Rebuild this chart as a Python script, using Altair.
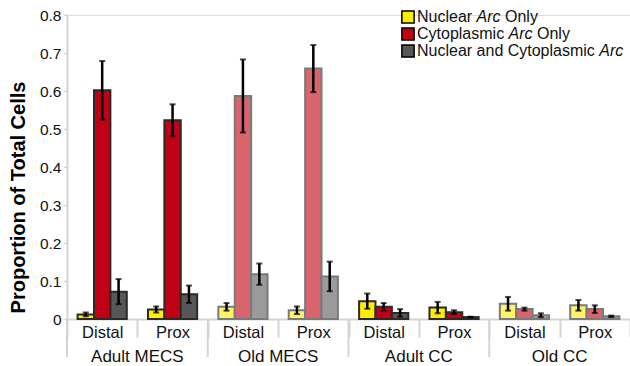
import altair as alt
import pandas as pd

# ---------------- data ----------------
groups = ["Adult MECS", "Old MECS", "Adult CC", "Old CC"]
positions = ["Distal", "Prox"]
ages = ["Adult", "Old", "Adult", "Old"]
series = ["Nuclear Arc Only", "Cytoplasmic Arc Only", "Nuclear and Cytoplasmic Arc"]

nuclear = [0.012, 0.025, 0.032, 0.023, 0.047, 0.030, 0.040, 0.036]
nuclear_err = [0.005, 0.008, 0.010, 0.010, 0.020, 0.015, 0.018, 0.014]
cyto = [0.602, 0.523, 0.587, 0.659, 0.032, 0.018, 0.026, 0.026]
cyto_err = [0.077, 0.042, 0.096, 0.062, 0.010, 0.005, 0.004, 0.010]
both = [0.072, 0.065, 0.118, 0.112, 0.016, 0.005, 0.010, 0.007]
both_err = [0.033, 0.023, 0.028, 0.039, 0.010, 0.001, 0.005, 0.002]

y_ticks = [0, 0.1, 0.2, 0.3, 0.4, 0.5, 0.6, 0.7, 0.8]

fill_colors = {
    "Adult|Nuclear Arc Only": "#FFEE00",
    "Adult|Cytoplasmic Arc Only": "#C00015",
    "Adult|Nuclear and Cytoplasmic Arc": "#575757",
    "Old|Nuclear Arc Only": "#FFF36A",
    "Old|Cytoplasmic Arc Only": "#D9646C",
    "Old|Nuclear and Cytoplasmic Arc": "#9B9B9B",
}
stroke_colors = {"Adult": "#2D2926", "Old": "#7A7A7A"}

# ---------------- table ----------------
keys = [f"{g}|{p}" for g in groups for p in positions]
vals = [nuclear, cyto, both]
errs = [nuclear_err, cyto_err, both_err]
rows = []
for gi, g in enumerate(groups):
    for pi, p in enumerate(positions):
        i = gi * 2 + pi
        for si, s in enumerate(series):
            v, e = vals[si][i], errs[si][i]
            rows.append({
                "key": f"{g}|{p}", "group": g, "pos": p, "age": ages[gi],
                "series": s, "ckey": f"{ages[gi]}|{s}",
                "value": v, "lo": max(v - e, 0), "hi": v + e,
            })
df = pd.DataFrame(rows)

FONT = "Liberation Sans"
W, H = 563, 304

x_enc = alt.X(
    "key:N", sort=keys, title=None,
    scale=alt.Scale(paddingInner=0, paddingOuter=0),
    axis=alt.Axis(
        labelExpr="split(datum.label, '|')[1]", labelAngle=0,
        tickBand="extent", tickSize=18, tickWidth=2, tickColor="#D4D4D4",
        domainColor="#D4D4D4", domainWidth=2,
        labelFontSize=16.5, labelColor="#111111", labelFont=FONT,
        labelBaseline="alphabetic", labelPadding=0,
    ),
)
xoff = alt.XOffset("series:N", sort=series,
                   scale=alt.Scale(paddingOuter=0.646, paddingInner=0))
y_scale = alt.Scale(domain=[0, 0.8], nice=False)
y_axis = alt.Axis(
    values=y_ticks, grid=False, title="Proportion of Total Cells",
    labelExpr="datum.value == 0 ? '0' : format(datum.value, '.1f')",
    labelOverlap=False, tickCount=9,
    labelFontSize=15.5, labelColor="#111111", labelFont=FONT,
    tickSize=3, tickColor="#C8C8C8", tickWidth=1.5, labelPadding=3,
    domainColor="#D4D4D4", domainWidth=2,
    titleFont=FONT, titleFontSize=20, titleFontWeight="bold",
    titleColor="#000000", titleAngle=270, titleAlign="center",
    titleBaseline="alphabetic", titleX=-43, titleY=182,
)


def Y(field):
    return alt.Y(field, scale=y_scale, axis=y_axis, title="Proportion of Total Cells")


base = alt.Chart(df)

bars = base.mark_bar(strokeWidth=2).encode(
    x=x_enc, xOffset=xoff, y=Y("value:Q"),
    fill=alt.Fill("ckey:N", scale=alt.Scale(domain=list(fill_colors.keys()),
                                           range=list(fill_colors.values())), legend=None),
    stroke=alt.Stroke("age:N", scale=alt.Scale(domain=list(stroke_colors.keys()),
                                              range=list(stroke_colors.values())), legend=None),
)

err_rule = base.mark_rule(color="black", strokeWidth=2.5).encode(
    x=alt.X("key:N", sort=keys), xOffset=xoff, y=Y("lo:Q"), y2="hi:Q",
)
cap_hi = base.mark_tick(color="black", size=6, thickness=2).encode(
    x=alt.X("key:N", sort=keys), xOffset=xoff, y=Y("hi:Q"),
)
cap_lo = base.mark_tick(color="black", size=6, thickness=2).encode(
    x=alt.X("key:N", sort=keys), xOffset=xoff, y=Y("lo:Q"),
)

# group separators and group labels
gdf = pd.DataFrame({"key": [f"{g}|Distal" for g in groups], "group": groups})
gsep = alt.Chart(gdf).mark_rule(color="#D4D4D4", strokeWidth=2).encode(
    x=alt.X("key:N", sort=keys, bandPosition=0),
    y=alt.value(H), y2=alt.value(H + 38),
)
glab = alt.Chart(gdf).mark_text(
    font=FONT, fontSize=17, color="#111111", baseline="alphabetic", align="center"
).encode(
    x=alt.X("key:N", sort=keys, bandPosition=1),
    y=alt.value(H + 43), text="group:N",
)

# custom legend (with italic "Arc")
AW = {" ": 278, "A": 667, "C": 722, "N": 722, "O": 778, "a": 556, "c": 500,
      "d": 556, "e": 556, "i": 222, "l": 222, "m": 833, "n": 556, "o": 556,
      "p": 556, "r": 333, "s": 500, "t": 278, "u": 556, "y": 500}
LFS = 16


def tw(s):
    return sum(AW.get(ch, 556) for ch in s) * LFS / 1000.0


legend_layers = []
leg_colors = ["#FFEE00", "#C00015", "#575757"]
leg_y = [2, 19, 36]
sq_x, tx0 = 341, 350
for s, c, yy in zip(series, leg_colors, leg_y):
    pre, post = s.split("Arc")
    legend_layers.append(
        alt.Chart(pd.DataFrame({"s": [s]})).mark_square(
            size=150, fill=c, stroke="black", strokeWidth=1.5, opacity=1
        ).encode(x=alt.value(sq_x), y=alt.value(yy))
    )
    xx = tx0
    for part, style in [(pre, "normal"), ("Arc", "italic"), (post, "normal")]:
        if part:
            lead = len(part) - len(part.lstrip(" "))
            xx += tw(" " * lead)
            shown = part.strip(" ")
            legend_layers.append(
                alt.Chart(pd.DataFrame({"t": [shown]})).mark_text(
                    font=FONT, fontSize=LFS, fontStyle=style, color="#111111",
                    align="left", baseline="middle",
                ).encode(x=alt.value(xx), y=alt.value(yy), text="t:N")
            )
            xx += tw(part[lead:])

chart = alt.layer(
    bars, err_rule, cap_hi, cap_lo, gsep, glab, *legend_layers
).properties(
    width=W, height=H,
    autosize=alt.AutoSizeParams(type="none"),
    padding={"left": 67, "top": 15, "right": 0, "bottom": 47},
).configure_view(stroke=None).configure(font=FONT)

chart.save("out.html", embed_options={"renderer": "svg", "actions": False})
